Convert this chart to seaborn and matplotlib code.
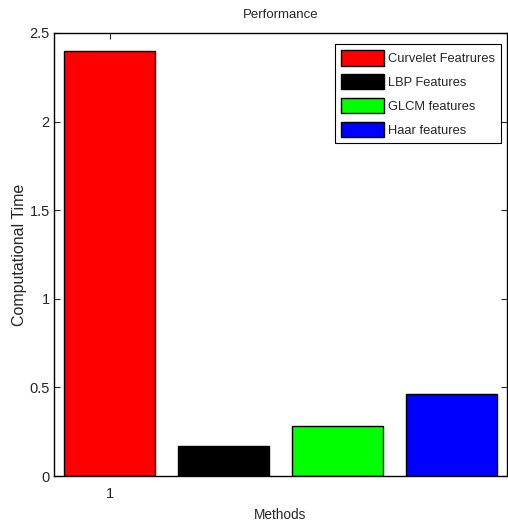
import matplotlib
matplotlib.use("Agg")
import matplotlib.pyplot as plt
import seaborn as sns
import pandas as pd

# data
methods = ["Curvelet Featrures", "LBP Features", "GLCM features", "Haar features"]
positions = [1, 2, 3, 4]
times = [2.40, 0.168, 0.283, 0.460]
colors = ["#ff0000", "#000000", "#00ff00", "#0000ff"]

df = pd.DataFrame({"pos": positions, "time": times, "method": methods})

sns.set_style("white")
plt.rcParams["font.family"] = ["Liberation Sans", "DejaVu Sans"]

fig = plt.figure(figsize=(5.08, 5.22), dpi=100)
ax = fig.add_axes([0.1063, 0.0881, 0.8917, 0.8487])

sns.barplot(data=df, x="pos", y="time", hue="method", palette=colors,
            hue_order=methods, dodge=False, native_scale=True, width=0.8,
            edgecolor="black", linewidth=1.0, saturation=1, ax=ax)

ax.set_xlim(0.51, 4.49)
ax.set_ylim(0, 2.5)
ax.set_xticks([1])
ax.set_xticklabels(["1"])
ax.set_yticks([0, 0.5, 1, 1.5, 2, 2.5])
ax.set_yticklabels(["0", "0.5", "1", "1.5", "2", "2.5"])
ax.tick_params(direction="in", length=4, width=0.8, labelsize=10.5,
               top=True, right=True, left=True, bottom=True, pad=3)
ax.tick_params(axis="x", pad=8)
for s in ax.spines.values():
    s.set_visible(True)
    s.set_color("black")
    s.set_linewidth(1.0)

ax.set_title("Performance", fontsize=9.5, pad=11)
ax.set_xlabel("Methods", fontsize=9.8, labelpad=5)
ax.set_ylabel("Computational Time", fontsize=11.5, labelpad=2)

leg = ax.legend(loc="upper right", bbox_to_anchor=(0.993, 0.98), fontsize=9.3,
                frameon=True, fancybox=False, framealpha=1, edgecolor="black",
                handlelength=3.3, handleheight=1.45, labelspacing=0.66,
                handletextpad=0.35, borderpad=0.45, borderaxespad=0.2)
leg.get_frame().set_linewidth(0.8)

fig.savefig("out.png", dpi=100)
